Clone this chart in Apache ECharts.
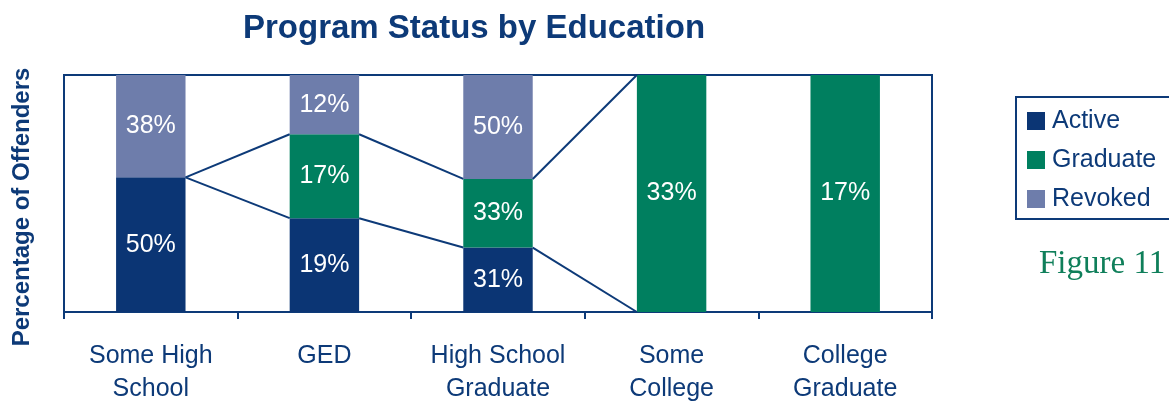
<!DOCTYPE html>
<html>
<head>
<meta charset="utf-8">
<script src="https://cdn.jsdelivr.net/npm/echarts@6/dist/echarts.min.js"></script>
<style>
  html, body { margin: 0; padding: 0; background: #ffffff; }
  #chart { width: 1169px; height: 402px; }
</style>
</head>
<body>
<div id="chart"></div>
<script>
// Education levels on the category axis
const categories = ['Some High\nSchool', 'GED', 'High School\nGraduate', 'Some\nCollege', 'College\nGraduate'];
// Percent of offenders in each program status (labelled values)
const active   = [50, 19, 31, 0, 0];
const graduate = [0, 17, 33, 33, 17];
const revoked  = [38, 12, 50, 0, 0];

const NAVY = '#0b3574';
const GREEN = '#007f5f';
const SLATE = '#6e7dab';
const TEXT = '#0d3a78';
const BAR_RATIO = 0.4;

// Each column is stacked to 100%: share of the column total for each status
const totals = categories.map((_, i) => active[i] + graduate[i] + revoked[i]);
const share = arr => arr.map((v, i) => totals[i] ? v / totals[i] * 100 : 0);
const activeShare = share(active);
const gradShare = share(graduate);
const revokedShare = share(revoked);

// Connector lines join the top of each stacked segment between neighbouring columns
const connectorData = [];
for (let i = 0; i < categories.length - 1; i++) {
  const a0 = activeShare[i], a1 = activeShare[i + 1];
  const g0 = a0 + gradShare[i], g1 = a1 + gradShare[i + 1];
  connectorData.push([i, a0, a1, g0, g1]);
}

function barSeries(name, values, raw, color) {
  return {
    name: name,
    type: 'bar',
    stack: 'status',
    barWidth: (BAR_RATIO * 100) + '%',
    itemStyle: { color: color },
    data: values,
    label: {
      show: true,
      position: 'inside',
      color: '#ffffff',
      fontFamily: 'Liberation Sans, Arial, sans-serif',
      fontSize: 25,
      formatter: p => raw[p.dataIndex] ? raw[p.dataIndex] + '%' : ''
    }
  };
}

const chart = echarts.init(document.getElementById('chart'), null, { renderer: 'canvas' });
chart.setOption({
  animation: false,
  backgroundColor: '#ffffff',
  title: {
    text: 'Program Status by Education',
    left: 469,
    textAlign: 'center',
    top: 7,
    textStyle: { color: TEXT, fontFamily: 'Liberation Sans, Arial, sans-serif', fontWeight: 'bold', fontSize: 33 }
  },
  legend: {
    orient: 'vertical',
    left: 1015,
    top: 96,
    padding: [11, 10, 10, 12],
    itemWidth: 18,
    itemHeight: 18,
    itemGap: 11,
    icon: 'rect',
    selectedMode: false,
    data: ['Active', 'Graduate', 'Revoked'],
    textStyle: { color: TEXT, fontFamily: 'Liberation Sans, Arial, sans-serif', fontSize: 25, lineHeight: 28, padding: [0, 0, 0, 2] }
  },
  graphic: [
    {
      // legend frame, running past the right edge of the canvas
      type: 'rect',
      shape: { x: 1016, y: 97, width: 200, height: 122 },
      style: { fill: 'none', stroke: TEXT, lineWidth: 2 },
      z: 1
    },
    {
      type: 'text',
      x: 22, y: 207,
      rotation: Math.PI / 2,
      style: {
        text: 'Percentage of Offenders',
        fill: TEXT,
        font: 'bold 24px "Liberation Sans", Arial, sans-serif',
        align: 'center',
        verticalAlign: 'middle'
      }
    },
    {
      type: 'text',
      left: 1039, top: 248,
      style: {
        text: 'Figure 11',
        fill: '#0f7f5a',
        font: '33px "Liberation Serif", "Times New Roman", serif'
      }
    }
  ],
  grid: {
    left: 64, right: 237, top: 75, bottom: 90,
    outerBoundsMode: 'none',
    containLabel: false,
    show: true,
    borderColor: TEXT,
    borderWidth: 2
  },
  xAxis: {
    type: 'category',
    data: categories,
    axisLine: { lineStyle: { color: TEXT, width: 2 } },
    axisTick: { show: true, interval: 0, length: 7, lineStyle: { color: TEXT, width: 2 } },
    axisLabel: {
      interval: 0,
      hideOverlap: false,
      color: TEXT,
      fontFamily: 'Liberation Sans, Arial, sans-serif',
      fontSize: 25,
      lineHeight: 33,
      margin: 28
    }
  },
  yAxis: {
    type: 'value',
    min: 0, max: 100,
    axisLine: { show: false },
    axisTick: { show: false },
    axisLabel: { show: false },
    splitLine: { show: false }
  },
  series: [
    barSeries('Active', activeShare, active, NAVY),
    barSeries('Graduate', gradShare, graduate, GREEN),
    barSeries('Revoked', revokedShare, revoked, SLATE),
    {
      name: 'connectors',
      type: 'custom',
      z: 3,
      silent: true,
      data: connectorData,
      encode: { x: 0, y: [1, 2, 3, 4] },
      renderItem: function (params, api) {
        const i = api.value(0);
        const band = api.size([1, 0])[0];
        const half = band * BAR_RATIO / 2;
        const lines = [];
        [[1, 2], [3, 4]].forEach(function (pair) {
          const p0 = api.coord([i, api.value(pair[0])]);
          const p1 = api.coord([i + 1, api.value(pair[1])]);
          lines.push({
            type: 'line',
            shape: { x1: p0[0] + half, y1: p0[1], x2: p1[0] - half, y2: p1[1] },
            style: { stroke: TEXT, lineWidth: 2 }
          });
        });
        return { type: 'group', children: lines };
      }
    }
  ]
});
</script>
</body>
</html>
